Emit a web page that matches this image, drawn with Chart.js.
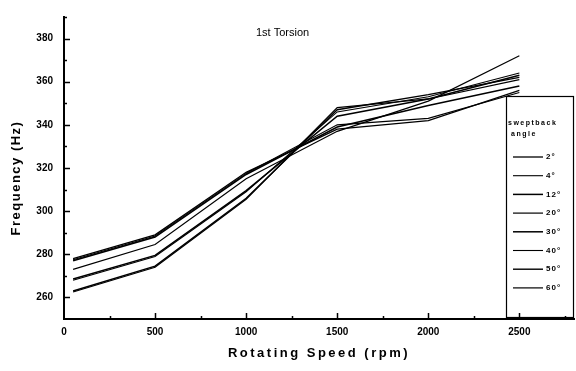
<!DOCTYPE html>
<html lang="en">
<head>
    <meta charset="UTF-8">
    <title>1st Torsion - Frequency vs Rotating Speed</title>
    <script src="https://cdn.jsdelivr.net/npm/chart.js"></script>
    <style>
        body { margin: 0; background: #fff; }
        canvas { display: block; }
    </style>
</head>
<body>
    <canvas id="torsionChart" width="576" height="371"></canvas>

    <script>
        // Rotating speed (rpm) at which the frequency was computed
        const speeds = [50, 500, 1000, 1500, 2000, 2500];

        // Sweptback angles, one curve per angle
        const sweepAngles = ['2°', '4°', '12°', '20°', '30°', '40°', '50°', '60°'];

        // 1st torsion frequency (Hz) for each sweptback angle
        const freq2 = [278, 289, 318, 338, 342, 356];
        const freq4 = [277.5, 288.5, 317.5, 340, 343, 355];
        const freq12 = [277, 288, 317, 339, 349, 358];
        const freq20 = [273, 284.5, 315, 337, 351, 372];
        const freq30 = [268.5, 279.5, 309.5, 344, 352, 363];
        const freq40 = [268, 279, 309, 346, 353, 364];
        const freq50 = [263, 274.5, 306, 347, 354, 362];
        const freq60 = [262.5, 274, 305.5, 348, 352, 361];

        const allFreqs = [freq2, freq4, freq12, freq20, freq30, freq40, freq50, freq60];
        const lineWidths = [1.3, 1.1, 1.5, 1.2, 1.5, 1.1, 1.4, 1.2];

        // Axis ticks
        const xTicks = [0, 500, 1000, 1500, 2000, 2500];
        const yTicks = [260, 280, 300, 320, 340, 360, 380];

        const FONT = "'Liberation Sans', Arial, sans-serif";

        const datasets = allFreqs.map((vals, i) => ({
            label: sweepAngles[i],
            data: speeds.map((s, j) => ({ x: s, y: vals[j] })),
            borderColor: '#000',
            borderWidth: lineWidths[i],
            pointRadius: 0,
            tension: 0,
            fill: false
        }));

        // Inward tick marks, titles and the boxed legend
        const decorPlugin = {
            id: 'decor',
            afterDraw(chart) {
                const ctx = chart.ctx;
                const xs = chart.scales.x;
                const ys = chart.scales.y;
                const area = chart.chartArea;

                ctx.save();
                ctx.strokeStyle = '#000';
                ctx.lineWidth = 1.5;

                // y ticks: majors every 20, minors every 10
                for (let v = 260; v <= 390; v += 10) {
                    const py = Math.round(ys.getPixelForValue(v)) + 0.5;
                    const len = (v % 20 === 0) ? 6 : 3;
                    ctx.beginPath();
                    ctx.moveTo(area.left - 1, py);
                    ctx.lineTo(area.left + len, py);
                    ctx.stroke();
                }
                // x ticks: majors every 500, minors every 250
                for (let v = 250; v <= 2750; v += 250) {
                    const px = Math.round(xs.getPixelForValue(v)) + 0.5;
                    const len = (v % 500 === 0) ? 6 : 3;
                    ctx.beginPath();
                    ctx.moveTo(px, area.bottom + 1);
                    ctx.lineTo(px, area.bottom - len);
                    ctx.stroke();
                }

                ctx.fillStyle = '#000';

                // chart title inside the plot
                ctx.font = '11px ' + FONT;
                ctx.textAlign = 'center';
                ctx.textBaseline = 'middle';
                ctx.fillText('1st Torsion', xs.getPixelForValue(1200), ys.getPixelForValue(382.5));

                // axis titles
                ctx.font = 'bold 13px ' + FONT;
                ctx.letterSpacing = '2.5px';
                ctx.fillText('Rotating Speed (rpm)', (area.left + area.right) / 2, 353);
                ctx.save();
                ctx.translate(16, 178);
                ctx.rotate(-Math.PI / 2);
                ctx.letterSpacing = '1.5px';
                ctx.fillText('Frequency (Hz)', 0, 0);
                ctx.restore();
                ctx.letterSpacing = '0px';

                // legend box
                const bx = area.right - 68, by = 96, bw = 68, bh = area.bottom - 2 - by;
                ctx.lineWidth = 1.2;
                ctx.strokeRect(bx + 0.5, by + 0.5, bw - 1, bh);

                ctx.font = 'bold 7px ' + FONT;
                ctx.textAlign = 'left';
                ctx.letterSpacing = '1.5px';
                ctx.fillText('sweptback', bx + 2, by + 27);
                ctx.fillText('angle', bx + 5, by + 38);
                ctx.letterSpacing = '1px';

                chart.data.datasets.forEach((ds, i) => {
                    const ly = by + 61 + i * 18.7;
                    ctx.lineWidth = ds.borderWidth;
                    ctx.beginPath();
                    ctx.moveTo(bx + 7, ly);
                    ctx.lineTo(bx + 37, ly);
                    ctx.stroke();
                    ctx.font = 'bold 8px ' + FONT;
                    ctx.fillText(ds.label, bx + 40, ly);
                });
                ctx.restore();
            }
        };

        const ctx = document.getElementById('torsionChart').getContext('2d');
        new Chart(ctx, {
            type: 'line',
            data: { datasets: datasets },
            options: {
                responsive: false,
                animation: false,
                layout: { padding: { top: 7, right: 2 } },
                plugins: {
                    legend: { display: false },
                    tooltip: { enabled: false }
                },
                scales: {
                    x: {
                        type: 'linear',
                        min: 0,
                        max: 2800,
                        afterBuildTicks: s => { s.ticks = xTicks.map(v => ({ value: v })); },
                        afterFit: s => { s.height = 52; },
                        grid: { display: false, drawTicks: false },
                        border: { display: true, color: '#000', width: 2 },
                        ticks: {
                            color: '#000',
                            padding: 7,
                            maxRotation: 0,
                            callback: v => String(v),
                            font: { family: FONT, size: 10, weight: 'bold' }
                        }
                    },
                    y: {
                        type: 'linear',
                        min: 250,
                        max: 390,
                        afterBuildTicks: s => { s.ticks = yTicks.map(v => ({ value: v })); },
                        afterFit: s => { s.width = 64; },
                        grid: { display: false, drawTicks: false },
                        border: { display: true, color: '#000', width: 2 },
                        ticks: {
                            color: '#000',
                            padding: 11,
                            callback: v => String(v),
                            font: { family: FONT, size: 10, weight: 'bold' }
                        }
                    }
                }
            },
            plugins: [decorPlugin]
        });
    </script>
</body>
</html>
